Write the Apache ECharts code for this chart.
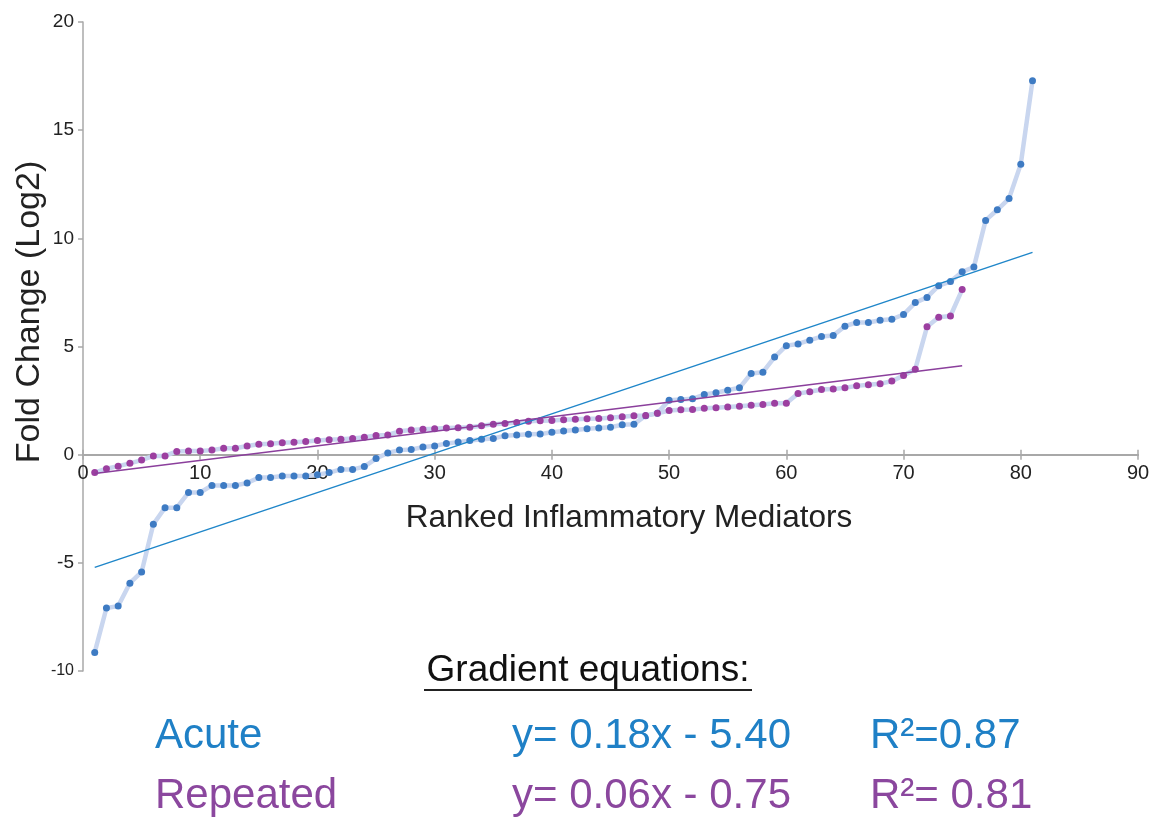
<!DOCTYPE html>
<html>
<head>
<meta charset="utf-8">
<script src="https://cdn.jsdelivr.net/npm/echarts@6/dist/echarts.min.js"></script>
<style>
    html, body { margin: 0; padding: 0; background: #fff; }
    #main { width: 1166px; height: 821px; }
</style>
</head>
<body>
<div id="main"></div>
<script>
// fold change per ranked mediator, rank = index + 1
var acuteValues = [-9.14, -7.09, -7.0, -5.94, -5.42, -3.22, -2.45, -2.45, -1.75, -1.75,
    -1.42, -1.42, -1.42, -1.31, -1.06, -1.06, -0.99, -0.99, -0.99, -0.93,
    -0.83, -0.68, -0.68, -0.55, -0.18, 0.08, 0.21, 0.24, 0.35, 0.40,
    0.52, 0.58, 0.66, 0.71, 0.75, 0.88, 0.91, 0.94, 0.95, 1.04,
    1.09, 1.14, 1.20, 1.23, 1.27, 1.38, 1.41, 1.80, 1.92, 2.52,
    2.55, 2.58, 2.78, 2.86, 2.98, 3.09, 3.75, 3.81, 4.51, 5.04,
    5.12, 5.29, 5.46, 5.51, 5.94, 6.11, 6.11, 6.21, 6.26, 6.48,
    7.03, 7.27, 7.81, 8.0, 8.45, 8.67, 10.83, 11.32, 11.84, 13.43, 17.29];

var repeatedValues = [-0.83, -0.65, -0.53, -0.40, -0.25, -0.06, -0.06, 0.15, 0.17, 0.17,
    0.21, 0.30, 0.30, 0.40, 0.48, 0.51, 0.55, 0.57, 0.61, 0.65,
    0.69, 0.71, 0.75, 0.81, 0.89, 0.91, 1.08, 1.14, 1.17, 1.20,
    1.23, 1.25, 1.27, 1.34, 1.41, 1.44, 1.49, 1.54, 1.57, 1.58,
    1.61, 1.64, 1.66, 1.67, 1.71, 1.75, 1.80, 1.81, 1.91, 2.04,
    2.08, 2.09, 2.14, 2.17, 2.20, 2.24, 2.28, 2.32, 2.38, 2.38,
    2.83, 2.91, 3.01, 3.03, 3.09, 3.18, 3.23, 3.28, 3.40, 3.66,
    3.95, 5.91, 6.35, 6.41, 7.63];

// trend line end points
var acuteTrendX = [1, 81];
var acuteTrendY = [-5.21, 9.35];
var repeatedTrendX = [1, 75];
var repeatedTrendY = [-0.87, 4.11];

var xTicks = [0, 90, 10];   // min, max, interval
var yTicks = [-10, 20, 5];

var eqRows = [
    {name: 'Acute', eq: 'y= 0.18x - 5.40', r2: 'R\u00b2=0.87', color: '#1f80c6'},
    {name: 'Repeated', eq: 'y= 0.06x - 0.75', r2: 'R\u00b2= 0.81', color: '#8b479e'}
];

function toPairs(vals) {
    var out = [];
    for (var i = 0; i < vals.length; i++) {
        out.push([i + 1, vals[i]]);
    }
    return out;
}
function zipPairs(xs, ys) {
    var out = [];
    for (var i = 0; i < xs.length; i++) out.push([xs[i], ys[i]]);
    return out;
}

var FONT = '"Liberation Sans", Arial, sans-serif';
var axisGray = '#a8a8a8';
var joinColor = '#c9d6ef';

// grid box, and where y = 0 falls inside it (x axis crosses there)
var gridTop = 22, gridBottom = 150;
var plotH = 821 - gridTop - gridBottom;
var zeroFromTop = plotH * (yTicks[1] - 0) / (yTicks[1] - yTicks[0]);
var zeroFromBottom = plotH - zeroFromTop;

var graphics = [
    {
        type: 'text', x: 30, y: 312, rotation: Math.PI / 2,
        style: {text: 'Fold Change (Log2)', font: '34px ' + FONT, fill: '#222',
            textAlign: 'center', textVerticalAlign: 'middle', verticalAlign: 'middle'}
    },
    {
        type: 'text', x: 629, y: 518,
        style: {text: 'Ranked Inflammatory Mediators', font: '31.5px ' + FONT, fill: '#222',
            textAlign: 'center', textVerticalAlign: 'middle', verticalAlign: 'middle'}
    },
    {
        type: 'text', x: 588, y: 671,
        style: {text: 'Gradient equations:', font: '37px ' + FONT, fill: '#111',
            textAlign: 'center', textVerticalAlign: 'middle', verticalAlign: 'middle'}
    },
    {
        type: 'line', shape: {x1: 424, y1: 690, x2: 752, y2: 690},
        style: {stroke: '#222', lineWidth: 2}
    }
];

for (var r = 0; r < eqRows.length; r++) {
    var yy = 736 + r * 60;
    var cols = [[155, eqRows[r].name], [512, eqRows[r].eq], [870, eqRows[r].r2]];
    for (var c = 0; c < cols.length; c++) {
        graphics.push({
            type: 'text', x: cols[c][0], y: yy,
            style: {text: cols[c][1], font: '42px ' + FONT, fill: eqRows[r].color,
                textAlign: 'left', textVerticalAlign: 'middle', verticalAlign: 'middle'}
        });
    }
}

var myChart = echarts.init(document.getElementById('main'));
var option = {
    backgroundColor: '#fff',
    animation: false,
    grid: {left: 83, right: 28, top: gridTop, bottom: gridBottom, outerBoundsMode: 'none'},
    xAxis: [
        {
            type: 'value', position: 'bottom', offset: -zeroFromBottom,
            min: xTicks[0], max: xTicks[1], interval: xTicks[2],
            splitLine: {show: false},
            axisLine: {onZero: false, lineStyle: {color: axisGray, width: 2}},
            axisTick: {length: 5, lineStyle: {color: axisGray, width: 1.5}},
            axisLabel: {margin: 9, fontSize: 20, color: '#222', fontFamily: FONT}
        },
        {
            // only here for the upward half of the x ticks
            type: 'value', position: 'top', offset: -zeroFromTop,
            min: xTicks[0], max: xTicks[1], interval: xTicks[2],
            splitLine: {show: false},
            axisLine: {onZero: false, lineStyle: {color: axisGray, width: 2}},
            axisTick: {length: 5, lineStyle: {color: axisGray, width: 1.5}},
            axisLabel: {show: false}
        }
    ],
    yAxis: {
        type: 'value', min: yTicks[0], max: yTicks[1], interval: yTicks[2],
        splitLine: {show: false},
        axisLine: {show: true, onZero: false, lineStyle: {color: axisGray, width: 1.5}},
        axisTick: {show: true, length: 5, lineStyle: {color: axisGray, width: 1.5}},
        axisLabel: {
            margin: 9, fontSize: 19, color: '#222', fontFamily: FONT,
            formatter: function (v) {
                return v === -10 ? '{s|' + v + '}' : '' + v;
            },
            rich: {s: {fontSize: 16, color: '#222', fontFamily: FONT}}
        }
    },
    series: [
        {
            name: 'Acute', type: 'line', data: toPairs(acuteValues),
            symbol: 'circle', symbolSize: 7,
            itemStyle: {color: '#3e7bc3'},
            lineStyle: {color: joinColor, width: 4.5},
            z: 2
        },
        {
            name: 'Repeated', type: 'line', data: toPairs(repeatedValues),
            symbol: 'circle', symbolSize: 7,
            itemStyle: {color: '#9c3fa0'},
            lineStyle: {color: joinColor, width: 4.5},
            z: 3
        },
        {
            name: 'Acute trend', type: 'line', data: zipPairs(acuteTrendX, acuteTrendY),
            symbol: 'none', lineStyle: {color: '#1f86c9', width: 1.5}, z: 4
        },
        {
            name: 'Repeated trend', type: 'line', data: zipPairs(repeatedTrendX, repeatedTrendY),
            symbol: 'none', lineStyle: {color: '#8b3f9c', width: 1.5}, z: 4
        }
    ],
    graphic: graphics
};
myChart.setOption(option);
</script>
</body>
</html>
